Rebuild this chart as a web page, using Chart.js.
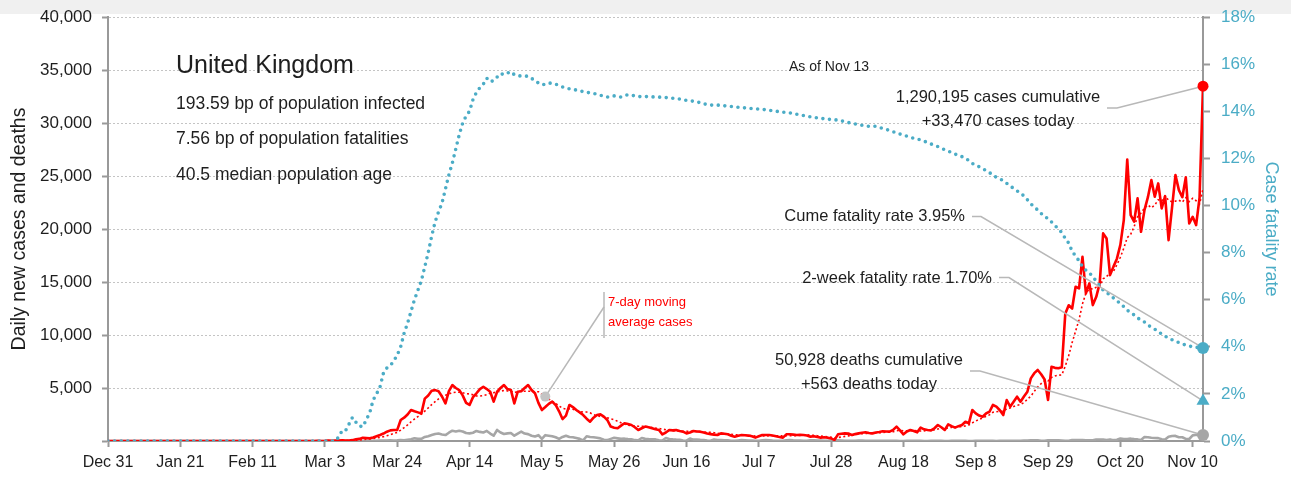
<!DOCTYPE html>
<html>
<head>
<meta charset="utf-8">
<title>United Kingdom - daily cases, deaths and case fatality rate</title>
<script src="https://cdn.jsdelivr.net/npm/chart.js@4/dist/chart.umd.min.js"></script>
<style>
  body { margin: 0; background: #fff; }
  #wrap { position: relative; width: 1291px; height: 482px; }
</style>
</head>
<body>
<div id="wrap"><canvas id="ukChart"></canvas></div>
<script>
// values, one per day, day 0 = Dec 31
const tickLabels = ["Dec 31", "Jan 21", "Feb 11", "Mar 3", "Mar 24", "Apr 14", "May 5", "May 26",
  "Jun 16", "Jul 7", "Jul 28", "Aug 18", "Sep 8", "Sep 29", "Oct 20", "Nov 10"];
const tickStep = 21;

const cases = [
  0, 0, 0, 0, 0, 0, 0, 0, 0, 0,
  0, 0, 0, 0, 0, 0, 0, 0, 0, 0,
  0, 0, 0, 0, 0, 0, 0, 0, 0, 0,
  0, 2, 0, 0, 0, 0, 0, 0, 1, 0,
  0, 4, 1, 0, 0, 0, 0, 1, 0, 0,
  0, 0, 0, 0, 0, 4, 0, 2, 5, 3,
  3, 12, 4, 11, 34, 29, 48, 43, 67, 48,
  52, 80, 160, 200, 310, 280, 250, 330, 450, 570,
  700, 880, 1000, 1040, 1050, 1980, 2200, 2500, 2920, 2800,
  2700, 2600, 4000, 4300, 4740, 4800, 4700, 4200, 3550, 4700,
  5280, 5000, 4810, 4300, 3600, 3400, 4140, 4500, 4900, 5120,
  4900, 4650, 3710, 4650, 5000, 5280, 4900, 4810, 3550, 4650,
  4700, 5000, 5280, 4810, 4500, 3600, 2920, 3200, 3500, 3710,
  3400, 2800, 2070, 2400, 3400, 3200, 2920, 2700, 2450, 2100,
  1820, 2200, 2450, 2510, 2300, 1980, 1360, 1250, 1200, 1450,
  1670, 1600, 1510, 1300, 1040, 1200, 1360, 1300, 1200, 1100,
  1040, 630, 800, 1040, 1000, 1040, 950, 880, 720, 800,
  940, 900, 880, 800, 700, 650, 600, 570, 720, 680,
  630, 500, 410, 500, 570, 540, 510, 450, 320, 450,
  570, 560, 570, 520, 450, 380, 320, 630, 630, 600,
  570, 590, 570, 520, 410, 450, 380, 320, 350, 300,
  250, 100, 630, 680, 720, 700, 570, 650, 720, 780,
  820, 750, 720, 800, 850, 920, 900, 880, 1050, 1360,
  1000, 630, 900, 1040, 950, 820, 1260, 1100, 1040, 1000,
  1200, 1510, 1300, 1040, 1570, 1400, 1260, 1400, 1510, 1820,
  1670, 2920, 2600, 2400, 2290, 2600, 2760, 3400, 3240, 2900,
  2450, 3870, 3240, 3700, 4180, 3710, 4200, 4650, 5910, 6400,
  6700, 6300, 5800, 3870, 7000, 6900, 6860, 6950, 12000, 12800,
  12500, 14550, 14400, 17380, 13930, 14870, 12820, 13600, 14870, 19590,
  19100, 15650, 16450, 17200, 18500, 20840, 26560, 21310, 20690, 22890,
  19740, 21780, 23000, 24610, 23040, 24300, 21940, 23100, 18950, 22000,
  25080, 23670, 23000, 24870, 20530, 21150, 20370, 22950, 33470
];

const deaths = [
  0, 0, 0, 0, 0, 0, 0, 0, 0, 0,
  0, 0, 0, 0, 0, 0, 0, 0, 0, 0,
  0, 0, 0, 0, 0, 0, 0, 0, 0, 0,
  0, 0, 0, 0, 0, 0, 0, 0, 0, 0,
  0, 0, 0, 0, 0, 0, 0, 0, 0, 0,
  0, 0, 0, 0, 0, 0, 0, 0, 0, 0,
  0, 0, 0, 0, 0, 1, 0, 1, 0, 2,
  1, 1, 2, 2, 3, 10, 14, 20, 16, 33,
  40, 33, 56, 48, 60, 90, 60, 120, 160, 250,
  210, 200, 380, 450, 560, 660, 700, 620, 560, 780,
  970, 900, 970, 900, 750, 720, 780, 950, 860, 800,
  950, 700, 500, 1040, 800, 660, 720, 750, 500, 700,
  880, 700, 650, 500, 420, 550, 200, 550, 500, 450,
  350, 200, 380, 500, 380, 350, 280, 200, 60, 450,
  380, 350, 300, 250, 120, 80, 200, 300, 250, 200,
  220, 180, 160, 80, 60, 280, 200, 180, 170, 150,
  60, 50, 280, 180, 150, 130, 120, 40, 30, 230,
  130, 130, 110, 100, 40, 20, 150, 90, 80, 60,
  60, 30, 20, 50, 80, 70, 50, 50, 20, 20,
  60, 80, 60, 40, 30, 10, 10, 70, 80, 60,
  50, 40, 10, 10, 70, 60, 40, 40, 30, 10,
  10, 60, 60, 50, 30, 20, 10, 10, 50, 40,
  30, 20, 20, 10, 10, 20, 20, 10, 10, 10,
  5, 5, 20, 15, 10, 10, 10, 5, 5, 10,
  15, 10, 10, 5, 5, 10, 20, 10, 10, 10,
  5, 5, 30, 20, 15, 10, 10, 10, 5, 20,
  30, 20, 30, 25, 15, 10, 40, 40, 60, 70,
  70, 30, 20, 70, 70, 60, 60, 50, 30, 20,
  80, 80, 90, 90, 70, 70, 60, 140, 140, 130,
  100, 150, 80, 120, 240, 190, 190, 220, 180, 150,
  100, 370, 350, 300, 280, 270, 160, 140, 400, 470,
  480, 360, 350, 200, 190, 530, 590, 560, 563
];

// cumulative case fatality rate, percent
const fatalityRate = [
  0, 0, 0, 0, 0, 0, 0, 0, 0, 0,
  0, 0, 0, 0, 0, 0, 0, 0, 0, 0,
  0, 0, 0, 0, 0, 0, 0, 0, 0, 0,
  0, 0, 0, 0, 0, 0, 0, 0, 0, 0,
  0, 0, 0, 0, 0, 0, 0, 0, 0, 0,
  0, 0, 0, 0, 0, 0, 0, 0, 0, 0,
  0, 0, 0, 0, 0, 0, 0, 0.17, 0.44, 0.44,
  0.72, 1.0, 0.8, 0.64, 0.6, 0.9, 1.19, 1.74, 2.0, 2.3,
  2.89, 3.1, 3.2, 3.4, 3.65, 4.0, 4.58, 5.0, 5.5, 6.0,
  6.4, 6.8, 7.4, 8.0, 8.7, 9.3, 9.73, 10.1, 10.7, 11.3,
  11.8, 12.4, 13.0, 13.5, 13.8, 14.0, 14.5, 14.8, 15.0, 15.15,
  15.4, 15.25, 15.3, 15.45, 15.6, 15.55, 15.62, 15.68, 15.55, 15.5,
  15.5, 15.5, 15.48, 15.4, 15.28, 15.2, 15.12, 15.15, 15.2, 15.18,
  15.15, 15.08, 15.03, 15.0, 14.95, 14.92, 14.9, 14.87, 14.83, 14.8,
  14.78, 14.76, 14.72, 14.68, 14.63, 14.6, 14.62, 14.65, 14.62, 14.6,
  14.66, 14.7, 14.68, 14.65, 14.62, 14.62, 14.62, 14.62, 14.61, 14.6,
  14.6, 14.59, 14.58, 14.56, 14.55, 14.54, 14.52, 14.48, 14.46, 14.45,
  14.42, 14.4, 14.36, 14.32, 14.28, 14.26, 14.26, 14.26, 14.25, 14.23,
  14.21, 14.2, 14.18, 14.17, 14.16, 14.14, 14.12, 14.11, 14.1, 14.09,
  14.08, 14.06, 14.04, 14.02, 14.0, 13.98, 13.96, 13.94, 13.93, 13.9,
  13.87, 13.84, 13.82, 13.79, 13.76, 13.73, 13.72, 13.7, 13.68, 13.66,
  13.65, 13.64, 13.62, 13.59, 13.56, 13.52, 13.49, 13.46, 13.43, 13.4,
  13.37, 13.36, 13.37, 13.36, 13.31, 13.27, 13.23, 13.18, 13.13, 13.09,
  13.03, 12.98, 12.94, 12.9, 12.85, 12.82, 12.78, 12.73, 12.67, 12.61,
  12.56, 12.5, 12.44, 12.36, 12.3, 12.25, 12.18, 12.12, 12.07, 12.02,
  11.9, 11.78, 11.72, 11.64, 11.56, 11.48, 11.4, 11.26, 11.2, 11.14,
  11.04, 10.94, 10.83, 10.72, 10.62, 10.53, 10.4, 10.24, 10.06, 9.95,
  9.8, 9.66, 9.52, 9.45, 9.3, 9.15, 9.0, 8.85, 8.6, 8.4,
  8.05, 7.85, 7.65, 7.4, 7.25, 7.15, 6.95, 6.8, 6.6, 6.4,
  6.3, 6.2, 6.07, 5.95, 5.84, 5.7, 5.55, 5.45, 5.35, 5.22,
  5.14, 5.05, 4.92, 4.83, 4.75, 4.62, 4.55, 4.45, 4.36, 4.3,
  4.24, 4.18, 4.12, 4.07, 4.03, 4.0, 3.98, 3.96, 3.95
];

const twoWeekRate = 1.70;
const avgMarkerDay = 127;

const lastDay = cases.length - 1;

// 7-day trailing average of the daily cases
const avgCases = cases.map(function (v, i) {
  const win = cases.slice(Math.max(0, i - 6), i + 1);
  return win.reduce(function (a, b) { return a + b; }, 0) / win.length;
});

function toPoints(arr) {
  return arr.map(function (y, x) { return { x: x, y: y }; });
}

const RED = "#ff0000";
const TEAL = "#4bacc6";
const DEATH_GRAY = "#a6a6a6";
const AXIS_GRAY = "#999999";
const LEADER = "#b8b8b8";
const INK = "#1e1e1e";
const FONT = "'Liberation Sans', Arial, sans-serif";

Chart.defaults.font.family = FONT;
Chart.defaults.color = INK;

// gray strip along the top of the picture
const topStrip = {
  id: "topStrip",
  beforeDraw(chart) {
    const ctx = chart.ctx;
    ctx.save();
    ctx.fillStyle = "#f0f0f0";
    ctx.fillRect(0, 0, chart.width, 14);
    ctx.restore();
  },
};

function leaderTo(ctx, pts) {
  ctx.beginPath();
  ctx.moveTo(pts[0][0], pts[0][1]);
  for (let i = 1; i < pts.length; i++) ctx.lineTo(pts[i][0], pts[i][1]);
  ctx.stroke();
}

// leader lines, drawn after the series but before the end markers
const leaders = {
  id: "leaders",
  afterDatasetDraw(chart, args) {
    if (chart.data.datasets[args.index].label !== "Case fatality rate") return;
    const ctx = chart.ctx;
    const x = chart.scales.x;
    const y = chart.scales.y;
    const y1 = chart.scales.y1;
    const endX = x.getPixelForValue(lastDay);
    ctx.save();
    ctx.strokeStyle = LEADER;
    ctx.lineWidth = 1.5;
    leaderTo(ctx, [[1107, 108], [1117, 108], [endX, y.getPixelForValue(cases[lastDay])]]);
    leaderTo(ctx, [[972, 216.5], [981, 216.5], [endX, y1.getPixelForValue(fatalityRate[lastDay])]]);
    leaderTo(ctx, [[999, 277.5], [1009, 277.5], [endX, y1.getPixelForValue(twoWeekRate)]]);
    leaderTo(ctx, [[970, 371], [980, 371], [endX, y.getPixelForValue(deaths[lastDay])]]);
    leaderTo(ctx, [[604, 292], [604, 338]]);
    leaderTo(ctx, [[604, 307], [x.getPixelForValue(avgMarkerDay), y.getPixelForValue(avgCases[avgMarkerDay])]]);
    ctx.restore();
  },
};

function text(ctx, str, x, y, align, size, color, baseline) {
  ctx.font = size + "px " + FONT;
  ctx.fillStyle = color || INK;
  ctx.textAlign = align;
  ctx.textBaseline = baseline || "middle";
  ctx.fillText(str, x, y);
}

const labels = {
  id: "labels",
  afterDraw(chart) {
    const ctx = chart.ctx;
    ctx.save();
    text(ctx, "United Kingdom", 176, 73, "left", 25, INK, "alphabetic");
    text(ctx, "193.59 bp of population infected", 176, 108.5, "left", 17.5, INK, "alphabetic");
    text(ctx, "7.56 bp of population fatalities", 176, 144, "left", 17.5, INK, "alphabetic");
    text(ctx, "40.5 median population age", 176, 179.5, "left", 17.5, INK, "alphabetic");
    text(ctx, "As of Nov 13", 789, 67.5, "left", 14);
    text(ctx, "1,290,195 cases cumulative", 998, 97.5, "center", 16.5);
    text(ctx, "+33,470 cases today", 998, 121.5, "center", 16.5);
    text(ctx, "Cume fatality rate 3.95%", 965, 216.5, "right", 16.5);
    text(ctx, "2-week fatality rate 1.70%", 992, 278, "right", 16.5);
    text(ctx, "50,928 deaths cumulative", 869, 360, "center", 16.5);
    text(ctx, "+563 deaths today", 869, 384, "center", 16.5);
    text(ctx, "7-day moving", 608, 302, "left", 13, RED);
    text(ctx, "average cases", 608, 322, "left", 13, RED);
    ctx.restore();
  },
};

new Chart(document.getElementById("ukChart"), {
  type: "line",
  data: {
    datasets: [
      {
        label: "Cases marker",
        data: [{ x: lastDay, y: cases[lastDay] }],
        yAxisID: "y",
        order: 0,
        showLine: false,
        clip: false,
        pointRadius: 5.5,
        pointBackgroundColor: RED,
        pointBorderWidth: 0,
      },
      {
        label: "CFR marker",
        data: [{ x: lastDay, y: fatalityRate[lastDay] }],
        yAxisID: "y1",
        order: 0,
        showLine: false,
        clip: false,
        pointRadius: 6,
        pointBackgroundColor: TEAL,
        pointBorderWidth: 0,
      },
      {
        label: "2-week marker",
        data: [{ x: lastDay, y: twoWeekRate }],
        yAxisID: "y1",
        order: 0,
        showLine: false,
        clip: false,
        pointStyle: "triangle",
        pointRadius: 7.5,
        pointBackgroundColor: TEAL,
        pointBorderWidth: 0,
      },
      {
        label: "Deaths marker",
        data: [{ x: lastDay, y: deaths[lastDay] }],
        yAxisID: "y",
        order: 0,
        showLine: false,
        clip: false,
        pointRadius: 6,
        pointBackgroundColor: DEATH_GRAY,
        pointBorderWidth: 0,
      },
      {
        label: "Average marker",
        data: [{ x: avgMarkerDay, y: avgCases[avgMarkerDay] }],
        yAxisID: "y",
        order: 0,
        showLine: false,
        clip: false,
        pointRadius: 5,
        pointBackgroundColor: "#c4c4c4",
        pointBorderWidth: 0,
      },
      {
        label: "Case fatality rate",
        data: toPoints(fatalityRate),
        yAxisID: "y1",
        order: 1,
        borderColor: TEAL,
        borderWidth: 3.6,
        borderDash: [0, 6.6],
        borderCapStyle: "round",
        pointRadius: 0,
        tension: 0,
      },
      {
        label: "7-day moving average cases",
        data: toPoints(avgCases),
        yAxisID: "y",
        order: 2,
        borderColor: RED,
        borderWidth: 1.6,
        borderDash: [2, 2.5],
        pointRadius: 0,
        tension: 0,
      },
      {
        label: "Daily new cases",
        data: toPoints(cases),
        yAxisID: "y",
        order: 3,
        borderColor: RED,
        borderWidth: 2.6,
        borderJoinStyle: "round",
        pointRadius: 0,
        tension: 0,
      },
      {
        label: "Daily new deaths",
        data: toPoints(deaths),
        yAxisID: "y",
        order: 4,
        borderColor: DEATH_GRAY,
        borderWidth: 2.6,
        borderJoinStyle: "round",
        pointRadius: 0,
        tension: 0,
      },
    ],
  },
  options: {
    responsive: true,
    maintainAspectRatio: false,
    animation: false,
    layout: { padding: { top: 17, left: 0, right: 0, bottom: 0 } },
    plugins: {
      legend: { display: false },
      tooltip: { enabled: false },
    },
    scales: {
      x: {
        type: "linear",
        min: 0,
        max: lastDay,
        afterBuildTicks: function (scale) {
          scale.ticks = tickLabels.map(function (_, i) { return { value: i * tickStep }; });
        },
        afterFit: function (scale) { scale.height = 41; },
        ticks: {
          autoSkip: false,
          maxRotation: 0,
          padding: 6,
          color: INK,
          font: { size: 16 },
          callback: function (v, i) { return tickLabels[i]; },
        },
        grid: { drawOnChartArea: false, tickLength: 6, tickColor: AXIS_GRAY, tickWidth: 2 },
        border: { color: AXIS_GRAY, width: 2 },
      },
      y: {
        position: "left",
        min: 0,
        max: 40000,
        afterFit: function (scale) { scale.width = 108; },
        ticks: {
          stepSize: 5000,
          padding: 10,
          color: INK,
          // small lineHeight keeps the top label from pushing the plot area down
          font: { size: 17, lineHeight: 0.7 },
          callback: function (v) { return v === 0 ? "" : v.toLocaleString("en-US"); },
        },
        grid: { color: "#c4c4c4", lineWidth: 1, tickLength: 6, tickColor: AXIS_GRAY, tickWidth: 2 },
        border: { color: AXIS_GRAY, width: 2, dash: [2, 2] },
        title: {
          display: true,
          text: "Daily new cases and deaths",
          color: INK,
          font: { size: 19.5 },
          padding: { top: 8, bottom: 0 },
        },
      },
      y1: {
        position: "right",
        min: 0,
        max: 18,
        afterFit: function (scale) { scale.width = 88; },
        ticks: {
          stepSize: 2,
          padding: 11,
          color: TEAL,
          font: { size: 17, lineHeight: 0.7 },
          callback: function (v) { return v + "%"; },
        },
        grid: { drawOnChartArea: false, tickLength: 7, tickColor: AXIS_GRAY, tickWidth: 2 },
        border: { color: AXIS_GRAY, width: 2 },
        title: {
          display: true,
          text: "Case fatality rate",
          color: TEAL,
          font: { size: 18 },
          padding: { top: 9, bottom: 0 },
        },
      },
    },
  },
  plugins: [topStrip, leaders, labels],
});
</script>
</body>
</html>
